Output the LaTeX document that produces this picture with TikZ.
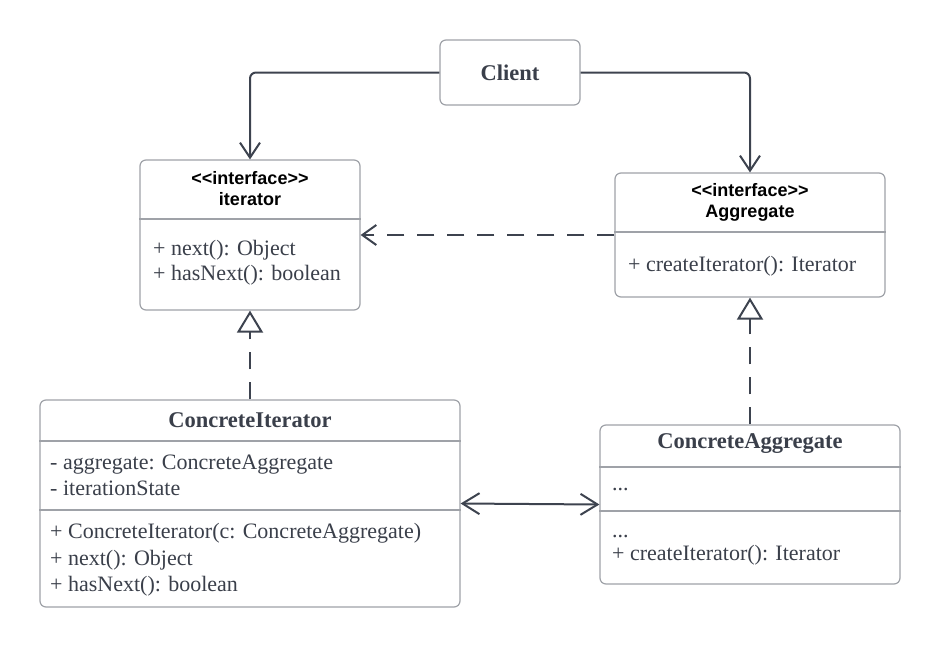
\documentclass[tikz,border=0pt]{standalone}
\usepackage{fontspec}
\setmainfont{Liberation Serif}
\newfontfamily\headfont{Liberation Sans}
\usetikzlibrary{arrows.meta,positioning}
\definecolor{linegray}{HTML}{3D434F}
\definecolor{boxgray}{HTML}{9FA2A8}
\definecolor{textgray}{HTML}{3A3F4A}
\tikzset{
  classbox/.style={draw=boxgray,line width=1.2pt,rounded corners=6pt,fill=white,inner sep=0pt},
  divider/.style={draw=boxgray,line width=1.2pt},
  bodytext/.style={anchor=west,align=left,text=textgray,inner sep=0pt,font=\fontsize{22}{26.5}\selectfont},
  titletext/.style={text=textgray,inner sep=0pt,font=\fontsize{22.5}{26}\selectfont\bfseries},
  headtext/.style={align=center,inner sep=0pt,font=\headfont\bfseries\fontsize{18}{21}\selectfont},
  assoc/.style={draw=linegray,line width=2pt,rounded corners=6pt,-{Straight Barb[length=15pt,width=20pt]}},
  dep/.style={draw=linegray,line width=2pt,dash pattern=on 17pt off 13pt,-{Straight Barb[length=14pt,width=20pt]}},
  realize/.style={draw=linegray,line width=2pt,dash pattern=on 17pt off 13pt,-{Triangle[open,length=22pt,width=26pt]}},
  biassoc/.style={draw=linegray,line width=2pt,{Straight Barb[length=17pt,width=21pt]}-{Straight Barb[length=17pt,width=21pt]}}
}
\begin{document}
\begin{tikzpicture}[x=1pt,y=-1pt]
  \useasboundingbox (0,0) rectangle (940,648);

  % boxes
  \node[classbox,minimum width=140pt,minimum height=65pt] (client) at (510,72.5) {};
  \node[classbox,minimum width=220pt,minimum height=150pt] (iter) at (250,235) {};
  \node[classbox,minimum width=270pt,minimum height=124pt] (aggr) at (750,235) {};
  \node[classbox,minimum width=420pt,minimum height=207pt] (citer) at (250,503.5) {};
  \node[classbox,minimum width=300pt,minimum height=159pt] (caggr) at (750,504.5) {};

  % compartments
  \draw[divider] (iter.west |- 0,219) -- (iter.east |- 0,219);
  \draw[divider] (aggr.west |- 0,232) -- (aggr.east |- 0,232);
  \draw[divider] (citer.west |- 0,441) -- (citer.east |- 0,441);
  \draw[divider] (citer.west |- 0,510) -- (citer.east |- 0,510);
  \draw[divider] (caggr.west |- 0,467) -- (caggr.east |- 0,467);
  \draw[divider] (caggr.west |- 0,511) -- (caggr.east |- 0,511);

  % texts
  \node[titletext] (clientname) at (client) {Client};
  \node[headtext] (itername) at (250,189) {<<interface>>\\iterator};
  \node[bodytext,font=\fontsize{22}{24.5}\selectfont] (iterops) at (153,262.5) {+ next(): Object\\+ hasNext(): boolean};
  \node[headtext] (aggrname) at (750,202) {<<interface>>\\Aggregate};
  \node[bodytext] (aggrops) at (628,266) {+ createIterator(): Iterator};
  \node[titletext] (citername) at (250,420) {ConcreteIterator};
  \node[bodytext] (citerattr) at (50,475.5) {- aggregate: ConcreteAggregate\\- iterationState};
  \node[bodytext] (citerops) at (50,560) {+ ConcreteIterator(c: ConcreteAggregate)\\+ next(): Object\\+ hasNext(): boolean};
  \node[titletext] (caggrname) at (750,444) {ConcreteAggregate};
  \node[bodytext] (caggrattr) at (612,490) {...};
  \node[bodytext,font=\fontsize{22}{23.5}\selectfont] (caggrops) at (612,550) {...\\+ createIterator(): Iterator};

  % connectors
  \draw[assoc] (client.west) -| (iter.north);
  \draw[assoc] (client.east) -| (aggr.north);
  \draw[dep] (aggr.west) -- (iter.east);
  \draw[realize] (citer.north) -- (iter.south);
  \draw[realize] (caggr.north) -- (aggr.south);
  \draw[biassoc] (citer.east) -- (caggr.west);
\end{tikzpicture}
\end{document}
